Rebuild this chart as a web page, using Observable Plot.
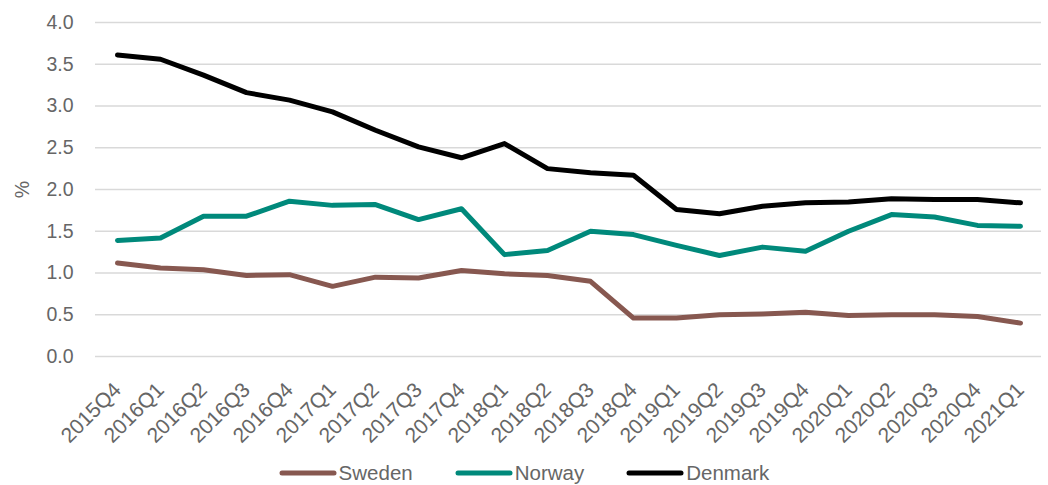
<!DOCTYPE html>
<html>
<head>
<meta charset="utf-8">
<script src="https://cdn.jsdelivr.net/npm/d3@7"></script>
<script src="https://cdn.jsdelivr.net/npm/@observablehq/plot@0.6"></script>
<style>
  html, body { margin: 0; padding: 0; background: #fff; }
  #chart { width: 1048px; height: 485px; position: relative; font-family: "Liberation Sans", Arial, sans-serif; }
  #plot { position: absolute; left: 0; top: 0; }
  #legend { position: absolute; left: 0; top: 458px; width: 1048px; height: 30px; display: flex; justify-content: center; align-items: center; gap: 42px; font-size: 20.5px; color: #666; }
  .item { display: flex; align-items: center; }
  .item svg { margin-right: 2px; }
</style>
</head>
<body>
<div id="chart"><div id="plot"></div><div id="legend"></div></div>
<script>
const quarters = ["2015Q4","2016Q1","2016Q2","2016Q3","2016Q4","2017Q1","2017Q2","2017Q3","2017Q4","2018Q1","2018Q2","2018Q3","2018Q4","2019Q1","2019Q2","2019Q3","2019Q4","2020Q1","2020Q2","2020Q3","2020Q4","2021Q1"];
const sweden  = [1.12,1.06,1.04,0.97,0.98,0.84,0.95,0.94,1.03,0.99,0.97,0.90,0.46,0.46,0.50,0.51,0.53,0.49,0.50,0.50,0.48,0.40];
const norway  = [1.39,1.42,1.68,1.68,1.86,1.81,1.82,1.64,1.77,1.22,1.27,1.50,1.46,1.33,1.21,1.31,1.26,1.50,1.70,1.67,1.57,1.56];
const denmark = [3.61,3.56,3.37,3.16,3.07,2.93,2.71,2.51,2.38,2.55,2.25,2.20,2.17,1.76,1.71,1.80,1.84,1.85,1.89,1.88,1.88,1.84];
const seriesNames = ["Sweden","Norway","Denmark"];
const seriesColors = ["#875850","#00897b","#000000"];
const yTicks = [0,0.5,1,1.5,2,2.5,3,3.5,4];

const seriesValues = [sweden, norway, denmark];
const rows = [];
seriesNames.forEach((name, i) => {
  quarters.forEach((q, j) => rows.push({series: name, quarter: q, value: seriesValues[i][j]}));
});

const plot = Plot.plot({
  width: 1048,
  height: 485,
  marginTop: 22,
  marginBottom: 129,
  marginLeft: 95,
  marginRight: 7,
  style: {fontFamily: "Liberation Sans, Arial, sans-serif", fontSize: "19.5px", color: "#666", background: "#fff"},
  x: {type: "point", domain: quarters, padding: 0.5},
  y: {domain: [0, 4]},
  color: {domain: seriesNames, range: seriesColors},
  marks: [
    Plot.gridY(yTicks, {stroke: "#d9d9d9", strokeOpacity: 1, strokeWidth: 1.4}),
    Plot.axisY(yTicks, {tickSize: 0, tickPadding: 22, tickFormat: d3.format(".1f"), label: "%", labelAnchor: "center", labelArrow: "none", labelOffset: 80, fill: "#666"}),
    Plot.axisX({tickSize: 0, tickPadding: 30, tickRotate: -45, label: null, fill: "#666", fontSize: 21}),
    Plot.line(rows, {x: "quarter", y: "value", z: "series", stroke: "series", strokeWidth: 5, strokeLinejoin: "round", strokeLinecap: "round"})
  ]
});
document.getElementById("plot").appendChild(plot);

const legend = document.getElementById("legend");
seriesNames.forEach((name, i) => {
  const item = document.createElement("div");
  item.className = "item";
  item.innerHTML = `<svg width="58" height="10"><line x1="3" y1="5" x2="55" y2="5" stroke="${seriesColors[i]}" stroke-width="5" stroke-linecap="round"/></svg><span>${name}</span>`;
  legend.appendChild(item);
});
</script>
</body>
</html>
